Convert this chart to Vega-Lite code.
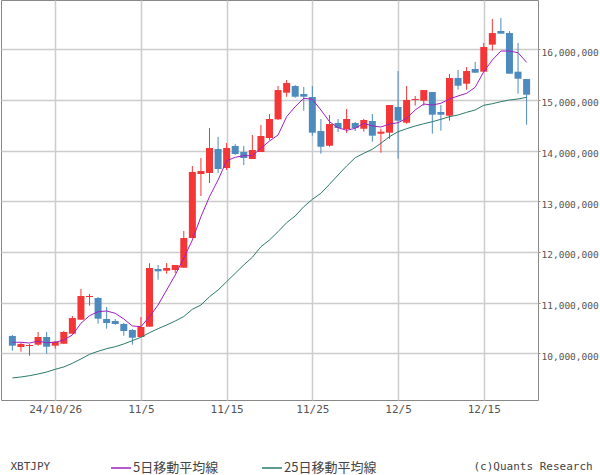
{
  "$schema": "https://vega.github.io/schema/vega-lite/v6.json",
  "width": 537,
  "height": 400,
  "autosize": {"type": "none"},
  "padding": {"left": 1, "top": 0, "right": 62, "bottom": 75},
  "background": "white",
  "config": {"view": {"stroke": "#888888", "strokeWidth": 1}},
  "data": {"values": [
    {"date":"2024-10-21","open":10342000,"high":10361000,"low":10051000,"close":10150000,"ma5":10217000,"ma25":9513000},
    {"date":"2024-10-22","open":10124000,"high":10209000,"low":10032000,"close":10184000,"ma5":10217000,"ma25":9532000},
    {"date":"2024-10-23","open":10144000,"high":10184000,"low":9953000,"close":10164000,"ma5":10203000,"ma25":9558000},
    {"date":"2024-10-24","open":10170000,"high":10420000,"low":10150000,"close":10322000,"ma5":10237000,"ma25":9591000},
    {"date":"2024-10-25","open":10322000,"high":10420000,"low":9992000,"close":10130000,"ma5":10209000,"ma25":9631000},
    {"date":"2024-10-26","open":10150000,"high":10243000,"low":10091000,"close":10229000,"ma5":10217000,"ma25":9684000},
    {"date":"2024-10-27","open":10189000,"high":10440000,"low":10189000,"close":10420000,"ma5":10262000,"ma25":9730000},
    {"date":"2024-10-28","open":10387000,"high":10736000,"low":10387000,"close":10697000,"ma5":10361000,"ma25":9803000},
    {"date":"2024-10-29","open":10663000,"high":11269000,"low":10663000,"close":11131000,"ma5":10592000,"ma25":9888000},
    {"date":"2024-10-30","open":11111000,"high":11170000,"low":10939000,"close":11131000,"ma5":10742000,"ma25":9980000},
    {"date":"2024-10-31","open":11091000,"high":11111000,"low":10584000,"close":10683000,"ma5":10821000,"ma25":10039000},
    {"date":"2024-11-01","open":10677000,"high":10914000,"low":10486000,"close":10598000,"ma5":10835000,"ma25":10091000},
    {"date":"2024-11-02","open":10637000,"high":10677000,"low":10559000,"close":10578000,"ma5":10789000,"ma25":10130000},
    {"date":"2024-11-03","open":10578000,"high":10598000,"low":10347000,"close":10440000,"ma5":10677000,"ma25":10184000},
    {"date":"2024-11-04","open":10460000,"high":10480000,"low":10170000,"close":10308000,"ma5":10539000,"ma25":10249000},
    {"date":"2024-11-05","open":10322000,"high":10716000,"low":10322000,"close":10519000,"ma5":10525000,"ma25":10316000},
    {"date":"2024-11-06","open":10525000,"high":11776000,"low":10525000,"close":11683000,"ma5":10722000,"ma25":10407000},
    {"date":"2024-11-07","open":11664000,"high":11743000,"low":11453000,"close":11618000,"ma5":10953000,"ma25":10486000},
    {"date":"2024-11-08","open":11630000,"high":11782000,"low":11571000,"close":11683000,"ma5":11249000,"ma25":10559000},
    {"date":"2024-11-09","open":11644000,"high":11743000,"low":11585000,"close":11743000,"ma5":11545000,"ma25":10637000},
    {"date":"2024-11-10","open":11689000,"high":12414000,"low":11689000,"close":12275000,"ma5":11881000,"ma25":10726000},
    {"date":"2024-11-11","open":12275000,"high":13696000,"low":12275000,"close":13578000,"ma5":12236000,"ma25":10868000},
    {"date":"2024-11-12","open":13539000,"high":13854000,"low":13104000,"close":13598000,"ma5":12696000,"ma25":10953000},
    {"date":"2024-11-13","open":13558000,"high":14446000,"low":13361000,"close":14052000,"ma5":13091000,"ma25":11117000},
    {"date":"2024-11-14","open":14032000,"high":14269000,"low":13558000,"close":13637000,"ma5":13420000,"ma25":11249000},
    {"date":"2024-11-15","open":13657000,"high":14151000,"low":13618000,"close":14052000,"ma5":13801000,"ma25":11413000},
    {"date":"2024-11-16","open":14092000,"high":14131000,"low":13913000,"close":13933000,"ma5":13868000,"ma25":11579000},
    {"date":"2024-11-17","open":13973000,"high":14092000,"low":13716000,"close":13854000,"ma5":13900000,"ma25":11743000},
    {"date":"2024-11-18","open":13835000,"high":14308000,"low":13835000,"close":14012000,"ma5":13900000,"ma25":11895000},
    {"date":"2024-11-19","open":13973000,"high":14506000,"low":13973000,"close":14289000,"ma5":14046000,"ma25":12104000},
    {"date":"2024-11-20","open":14249000,"high":14723000,"low":14210000,"close":14624000,"ma5":14190000,"ma25":12236000},
    {"date":"2024-11-21","open":14618000,"high":15275000,"low":14604000,"close":15196000,"ma5":14308000,"ma25":12400000},
    {"date":"2024-11-22","open":15143000,"high":15394000,"low":15064000,"close":15334000,"ma5":14670000,"ma25":12578000},
    {"date":"2024-11-23","open":15275000,"high":15295000,"low":15044000,"close":15064000,"ma5":14867000,"ma25":12710000},
    {"date":"2024-11-24","open":15118000,"high":15256000,"low":14788000,"close":15064000,"ma5":15033000,"ma25":12893000},
    {"date":"2024-11-25","open":15058000,"high":15275000,"low":14294000,"close":14354000,"ma5":15013000,"ma25":13039000},
    {"date":"2024-11-26","open":14387000,"high":14624000,"low":13939000,"close":14077000,"ma5":14802000,"ma25":13158000},
    {"date":"2024-11-27","open":14097000,"high":14703000,"low":14077000,"close":14525000,"ma5":14571000,"ma25":13335000},
    {"date":"2024-11-28","open":14545000,"high":14624000,"low":14368000,"close":14446000,"ma5":14452000,"ma25":13519000},
    {"date":"2024-11-29","open":14427000,"high":14822000,"low":14348000,"close":14624000,"ma5":14401000,"ma25":13697000},
    {"date":"2024-11-30","open":14545000,"high":14565000,"low":14387000,"close":14446000,"ma5":14441000,"ma25":13860000},
    {"date":"2024-12-01","open":14432000,"high":14624000,"low":14374000,"close":14604000,"ma5":14539000,"ma25":13947000},
    {"date":"2024-12-02","open":14585000,"high":14723000,"low":14176000,"close":14295000,"ma5":14486000,"ma25":14026000},
    {"date":"2024-12-03","open":14334000,"high":14433000,"low":13959000,"close":14374000,"ma5":14466000,"ma25":14145000},
    {"date":"2024-12-04","open":14354000,"high":14900000,"low":14235000,"close":14900000,"ma5":14525000,"ma25":14275000},
    {"date":"2024-12-05","open":14861000,"high":15571000,"low":13841000,"close":14591000,"ma5":14551000,"ma25":14373000},
    {"date":"2024-12-06","open":14551000,"high":15275000,"low":14532000,"close":14999000,"ma5":14638000,"ma25":14433000},
    {"date":"2024-12-07","open":14999000,"high":15078000,"low":14887000,"close":15019000,"ma5":14802000,"ma25":14486000},
    {"date":"2024-12-08","open":14985000,"high":15196000,"low":14887000,"close":15196000,"ma5":14920000,"ma25":14531000},
    {"date":"2024-12-09","open":15157000,"high":15157000,"low":14334000,"close":14709000,"ma5":14900000,"ma25":14571000},
    {"date":"2024-12-10","open":14762000,"high":14900000,"low":14393000,"close":14709000,"ma5":14934000,"ma25":14618000},
    {"date":"2024-12-11","open":14689000,"high":15512000,"low":14590000,"close":15433000,"ma5":15019000,"ma25":14670000},
    {"date":"2024-12-12","open":15433000,"high":15591000,"low":15202000,"close":15281000,"ma5":15078000,"ma25":14703000},
    {"date":"2024-12-13","open":15321000,"high":15650000,"low":15202000,"close":15571000,"ma5":15131000,"ma25":14756000},
    {"date":"2024-12-14","open":15611000,"high":15749000,"low":15538000,"close":15538000,"ma5":15250000,"ma25":14802000},
    {"date":"2024-12-15","open":15558000,"high":16124000,"low":15558000,"close":16045000,"ma5":15558000,"ma25":14895000},
    {"date":"2024-12-16","open":16091000,"high":16598000,"low":15972000,"close":16321000,"ma5":15789000,"ma25":14926000},
    {"date":"2024-12-17","open":16361000,"high":16617000,"low":16308000,"close":16308000,"ma5":15966000,"ma25":14966000},
    {"date":"2024-12-18","open":16321000,"high":16361000,"low":15518000,"close":15518000,"ma5":15966000,"ma25":14999000},
    {"date":"2024-12-19","open":15558000,"high":16124000,"low":15123000,"close":15419000,"ma5":15933000,"ma25":15019000},
    {"date":"2024-12-20","open":15413000,"high":15413000,"low":14512000,"close":15104000,"ma5":15743000,"ma25":15052000}
  ]},
  "encoding": {
    "x": {
      "field": "date", "type": "temporal",
      "scale": {"type": "utc", "domain": [
        {"year": 2024, "month": 10, "date": 20, "hours": 6, "minutes": 9, "utc": true},
        {"year": 2024, "month": 12, "date": 20, "hours": 17, "minutes": 54, "utc": true}
      ]},
      "axis": {
        "values": [
          {"year": 2024, "month": 10, "date": 26, "utc": true},
          {"year": 2024, "month": 11, "date": 5, "utc": true},
          {"year": 2024, "month": 11, "date": 15, "utc": true},
          {"year": 2024, "month": 11, "date": 25, "utc": true},
          {"year": 2024, "month": 12, "date": 5, "utc": true},
          {"year": 2024, "month": 12, "date": 15, "utc": true}
        ],
        "labelExpr": "utcmonth(datum.value) == 9 ? '24/10/26' : (utcmonth(datum.value) + 1) + '/' + utcdate(datum.value)",
        "labelFont": "DejaVu Sans Mono", "labelFontSize": 11, "labelColor": "#555555",
        "labelPadding": 3, "ticks": false, "domain": false,
        "grid": true, "gridColor": "#cccccc", "gridWidth": 1.5,
        "title": "(c)Quants Research", "titleX": 472, "titleY": 66,
        "titleAlign": "left", "titleBaseline": "middle", "titleAnchor": null,
        "titleFont": "DejaVu Sans Mono", "titleFontSize": 11, "titleFontWeight": "normal", "titleColor": "#444444"
      }
    }
  },
  "layer": [
    {
      "mark": {"type": "rule", "strokeWidth": 1},
      "encoding": {
        "y": {
          "field": "low", "type": "quantitative", "title": "XBTJPY",
          "scale": {"domain": [9078000, 16973000], "nice": false, "zero": false},
          "axis": {
            "orient": "right",
            "values": [10000000, 11000000, 12000000, 13000000, 14000000, 15000000, 16000000],
            "format": ",d",
            "labelFont": "DejaVu Sans Mono", "labelFontSize": 9.5, "labelColor": "#555555",
            "labelPadding": 1, "labelOffset": 3, "tickSize": 2, "tickColor": "#888888", "domain": false,
            "grid": true, "gridColor": "#cccccc", "gridWidth": 1.5,
            "titleAngle": 0, "titleX": -528, "titleY": 466, "titleAlign": "left", "titleBaseline": "middle",
            "titleFont": "DejaVu Sans Mono", "titleFontSize": 11, "titleFontWeight": "normal", "titleColor": "#444444"
          }
        },
        "y2": {"field": "high"},
        "color": {"condition": {"test": "datum.close > datum.open", "value": "#f43636"}, "value": "#4d8bbe"}
      }
    },
    {
      "mark": {"type": "bar", "size": 7},
      "encoding": {
        "y": {"field": "open", "type": "quantitative", "title": "XBTJPY"},
        "y2": {"field": "close"},
        "color": {"condition": {"test": "datum.close > datum.open", "value": "#f43636"}, "value": "#4d8bbe"}
      }
    },
    {
      "transform": [{"fold": ["ma5", "ma25"], "as": ["key", "value"]}],
      "mark": {"type": "line", "strokeWidth": 1},
      "encoding": {
        "y": {"field": "value", "type": "quantitative", "title": "XBTJPY"},
        "color": {
          "field": "key", "type": "nominal",
          "scale": {"domain": ["ma5", "ma25"], "range": ["#a020c0", "#2b7a6e"]},
          "legend": {
            "orient": "none", "legendX": 109, "legendY": 457, "direction": "horizontal",
            "title": null, "padding": 0, "symbolType": "stroke", "symbolSize": 400, "symbolStrokeWidth": 1.5,
            "labelExpr": "datum.label == 'ma5' ? '5日移動平均線' : '25日移動平均線'",
            "labelFont": "Noto Sans CJK JP", "labelFontSize": 13, "labelColor": "#444444",
            "labelOffset": 1, "columnPadding": 40
          }
        }
      }
    }
  ]
}
